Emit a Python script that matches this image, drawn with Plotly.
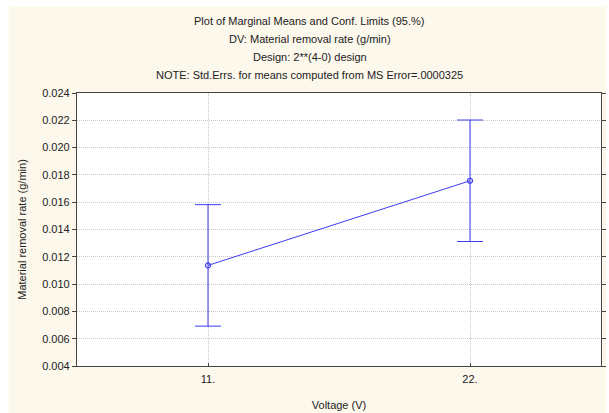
import plotly.graph_objects as go

# Marginal means of material removal rate with 95% confidence limits
voltage_labels = ["11.", "22."]
mean_rate = [0.01137, 0.01757]
conf_half_width = [0.00445, 0.00445]

y_ticks = [0.004, 0.006, 0.008, 0.010, 0.012, 0.014, 0.016, 0.018, 0.020, 0.022, 0.024]
y_tick_text = ["0.004", "0.006", "0.008", "0.010", "0.012", "0.014",
               "0.016", "0.018", "0.020", "0.022", "0.024"]

title_lines = [
    "Plot of Marginal Means and Conf. Limits (95.%)",
    "DV: Material removal rate (g/min)",
    "Design: 2**(4-0) design",
    "NOTE: Std.Errs. for means computed from MS Error=.0000325",
]

W, H = 609, 413
L, R, T, B = 77, 3, 93, 46
pw, ph = W - L - R, H - T - B


def px_to_paper_x(px):
    return (px - L) / pw


def px_to_paper_y(py):
    return (H - B - py) / ph


blue = "#3c3cf2"
font = "Liberation Sans, Arial, sans-serif"
grid = "#c8c8c8"

fig = go.Figure()
fig.add_trace(go.Scatter(
    x=voltage_labels,
    y=mean_rate,
    mode="lines+markers",
    line=dict(color=blue, width=1),
    marker=dict(symbol="circle-open", size=5, color=blue, line=dict(width=1.2)),
    error_y=dict(type="data", array=conf_half_width, visible=True,
                 color=blue, thickness=1, width=13),
    showlegend=False,
    hoverinfo="skip",
))

shapes = [
    # cream backdrop of the chart window
    dict(type="rect", xref="paper", yref="paper", layer="below",
         x0=px_to_paper_x(8), x1=px_to_paper_x(W + 2),
         y0=px_to_paper_y(H + 2), y1=px_to_paper_y(6),
         fillcolor="#fdf8ec", line=dict(width=0)),
    # white plotting area
    dict(type="rect", xref="paper", yref="paper", layer="below",
         x0=0, x1=1, y0=0, y1=1,
         fillcolor="white", line=dict(width=0)),
]

annotations = []
for i, line in enumerate(title_lines):
    annotations.append(dict(
        text=line, xref="paper", yref="paper",
        x=px_to_paper_x(312), y=px_to_paper_y(21 + 18 * i),
        xanchor="center", yanchor="middle", showarrow=False,
        font=dict(family=font, size=11, color="#222"),
    ))

fig.update_layout(
    width=W, height=H,
    margin=dict(l=L, r=R, t=T, b=B, pad=0),
    paper_bgcolor="white",
    plot_bgcolor="white",
    shapes=shapes,
    annotations=annotations,
    font=dict(family=font, size=11, color="#222"),
)

fig.update_xaxes(
    type="category",
    range=[-0.5, 1.5],
    showgrid=True, gridcolor=grid, griddash="1px,1px", gridwidth=1,
    showline=True, linecolor="#444", linewidth=1.2, mirror=True,
    ticks="inside", ticklen=3, tickcolor="#444",
    ticklabelstandoff=3,
    tickfont=dict(family=font, size=11, color="#222"),
    title=dict(text="Voltage (V)", standoff=17,
               font=dict(family=font, size=11, color="#222")),
    zeroline=False,
)

fig.update_yaxes(
    range=[0.004, 0.024],
    tickvals=y_ticks, ticktext=y_tick_text,
    showgrid=True, gridcolor=grid, griddash="1px,1px", gridwidth=1,
    showline=True, linecolor="#444", linewidth=1.2, mirror="ticks",
    ticks="outside", ticklen=4, tickcolor="#444",
    tickfont=dict(family=font, size=11, color="#222"),
    title=dict(text="Material removal rate (g/min)", standoff=13,
               font=dict(family=font, size=11, color="#222")),
    zeroline=False,
)

fig.write_html("out.html")
